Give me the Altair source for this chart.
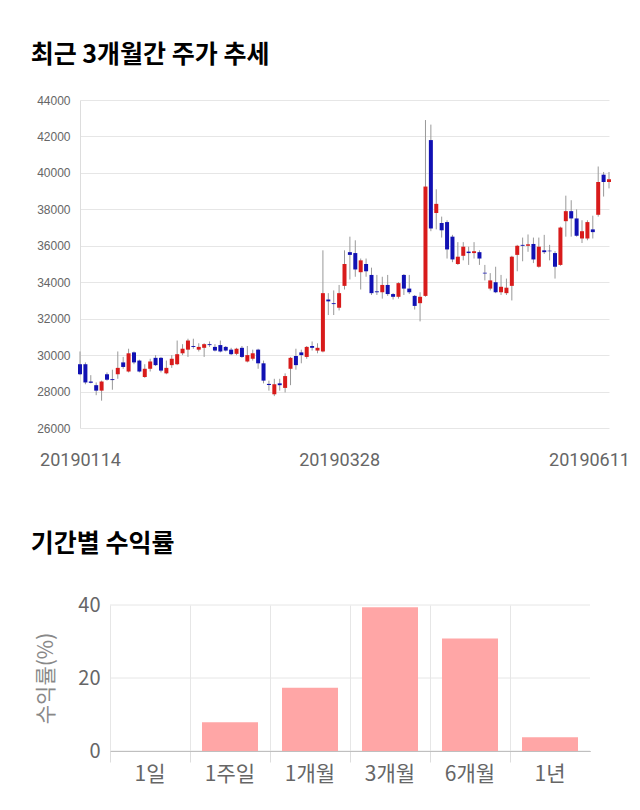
import altair as alt
import pandas as pd

# ---------------- data: candlesticks ----------------
dates = [
    "20190114", "20190115", "20190116", "20190117", "20190118", "20190121", "20190122",
    "20190123", "20190124", "20190125", "20190128", "20190129", "20190130", "20190131",
    "20190207", "20190208", "20190211", "20190212", "20190213", "20190214", "20190215",
    "20190218", "20190219", "20190220", "20190221", "20190222", "20190225", "20190226",
    "20190227", "20190228", "20190304", "20190305", "20190306", "20190307", "20190308",
    "20190311", "20190312", "20190313", "20190314", "20190315", "20190318", "20190319",
    "20190320", "20190321", "20190322", "20190325", "20190326", "20190327", "20190328",
    "20190329", "20190401", "20190402", "20190403", "20190404", "20190405", "20190408",
    "20190409", "20190410", "20190411", "20190412", "20190415", "20190416", "20190417",
    "20190418", "20190419", "20190422", "20190423", "20190424", "20190425", "20190426",
    "20190429", "20190430", "20190502", "20190503", "20190507", "20190508", "20190509",
    "20190510", "20190513", "20190514", "20190515", "20190516", "20190517", "20190520",
    "20190521", "20190522", "20190523", "20190524", "20190527", "20190528", "20190529",
    "20190530", "20190531", "20190603", "20190604", "20190605", "20190607", "20190610",
    "20190611",
]
opens = [
    29500, 29500, 28550, 28350, 28050, 28950, 28680, 28950, 29600, 29100,
    30150, 29700, 28800, 29250, 29850, 29850, 29000, 29450, 29500, 30100,
    30300, 30500, 30300, 30400, 30600, 30450, 30550, 30450, 30300, 30070,
    30400, 29650, 29800, 30300, 29550, 28420, 27850, 28450, 28200, 29250,
    29950, 30150, 29900, 30500, 30250, 30200, 33050, 32850, 32600, 33800,
    35650, 35600, 34550, 35000, 34400, 33500, 33450, 33850, 33350, 33200,
    34400, 33650, 33250, 32850, 33250, 41800, 37800, 37250, 37300, 36500,
    35000, 35450, 35680, 35600, 35650, 34520, 33650, 34000, 33450, 33400,
    33800, 35500, 36050, 36000, 36100, 34850, 35750, 35730, 35600, 34950,
    37350, 37900, 37500, 36400, 36400, 36900, 37700, 39900, 39500,
]
highs = [
    30200, 29600, 28900, 28500, 28600, 29050, 29200, 30200, 29900, 30350,
    30200, 29750, 29500, 29800, 30000, 29900, 29700, 30000, 30800, 30600,
    30900, 30900, 30650, 30650, 30750, 30600, 30800, 30500, 30400, 30400,
    30500, 30500, 30300, 30350, 29700, 28600, 28700, 28700, 29000, 29900,
    30350, 30300, 30500, 30750, 30650, 35750, 33400, 33550, 33850, 35750,
    36500, 36300, 35300, 35300, 34800, 34400, 34300, 34400, 33400, 34000,
    34450, 34400, 33300, 33450, 42900, 42650, 39100, 37600, 37400, 36600,
    36200, 36200, 35950, 36200, 35750, 34950, 34500, 34850, 34400, 34200,
    35450, 36050, 36450, 36620, 36450, 36450, 36600, 36050, 35700, 37050,
    38750, 38500, 38000, 37400, 37400, 37650, 40350, 40050, 40050,
]
lows = [
    28900, 28400, 28450, 27800, 27500, 28600, 28100, 28700, 29250, 29050,
    29500, 29050, 28750, 29100, 29400, 29050, 28950, 29300, 29450, 30000,
    29900, 30350, 30200, 29900, 30450, 30200, 30150, 30200, 30000, 30000,
    29850, 29600, 29700, 29250, 28450, 28050, 27750, 28050, 27950, 28350,
    29200, 29550, 29800, 30250, 30100, 30150, 32200, 32200, 32450, 33600,
    34150, 34300, 33600, 34300, 33300, 33300, 33100, 33250, 33050, 33100,
    33300, 33350, 32500, 31850, 33200, 36800, 36900, 36450, 35300, 35100,
    34950, 35200, 34950, 35300, 34950, 34100, 33550, 33400, 33300, 33300,
    33000, 34600, 35150, 35670, 35050, 34800, 35550, 35200, 34200, 34900,
    36500, 36500, 36500, 36150, 36300, 36400, 37600, 38700, 39150,
]
closes = [
    28950, 28500, 28480, 28050, 28550, 28650, 28630, 29300, 29350, 30100,
    29600, 29100, 29250, 29650, 29450, 29150, 29300, 29800, 30050, 30350,
    30800, 30450, 30450, 30600, 30550, 30250, 30200, 30250, 30050, 30350,
    29900, 30000, 30100, 29550, 28600, 28360, 28400, 28350, 28850, 29850,
    29450, 30000, 30450, 30400, 30400, 33400, 32950, 32800, 33400, 35000,
    35500, 34700, 35200, 34600, 33400, 33450, 33850, 33350, 33200, 33950,
    33650, 33450, 32700, 33200, 39250, 36950, 38300, 36850, 35800, 35250,
    35400, 35950, 35600, 35700, 35300, 34480, 34100, 33450, 33750, 33700,
    35400, 36000, 36000, 36080, 35250, 35950, 35650, 35700, 34850, 37000,
    37900, 37500, 36550, 36800, 37300, 36750, 39500, 39500, 39650,
]
price_ticks = [26000, 28000, 30000, 32000, 34000, 36000, 38000, 40000, 42000, 44000]
date_labels = ["20190114", "20190328", "20190611"]

# ---------------- data: returns by period ----------------
periods = ["1일", "1주일", "1개월", "3개월", "6개월", "1년"]
returns = [0.0, 7.9, 17.3, 39.4, 30.8, 3.8]
return_ticks = [0, 20, 40]

KR = "Noto Sans CJK KR"

candles = pd.DataFrame({"date": dates, "open": opens, "high": highs,
                        "low": lows, "close": closes})
candles["dir"] = ["up" if c >= o else "down" for o, c in zip(opens, closes)]

x_enc = alt.X(
    "date:O", sort=None,
    scale=alt.Scale(type="point", padding=0),
    axis=alt.Axis(
        values=date_labels, labelAngle=0, title=None, ticks=False, domain=False,
        grid=False, labelFontSize=18, labelColor="#666", labelFont="Roboto",
        labelPadding=23,
        labelOffset={"condition": {"test": "datum.value == '20190611'", "value": -20}, "value": 0},
    ),
)
y_scale = alt.Scale(domain=[26000, 44000], nice=False, zero=False)
y_axis = alt.Axis(values=price_ticks, format="d",
                  title=None, ticks=False, labelOverlap=False,
                  domain=True, domainColor="#dddddd", gridColor="#e6e6e6",
                  labelFontSize=12, labelColor="#666", labelFont="Liberation Sans",
                  labelPadding=10)

base = alt.Chart(candles)
wick = base.mark_rule(color="#999999", strokeWidth=1).encode(
    x=x_enc,
    y=alt.Y("low:Q", scale=y_scale, axis=y_axis),
    y2="high:Q",
)
body = base.mark_rule(strokeWidth=4, strokeCap="butt").encode(
    x=x_enc,
    y=alt.Y("open:Q", scale=y_scale, axis=y_axis),
    y2="close:Q",
    color=alt.Color("dir:N", scale=alt.Scale(domain=["up", "down"],
                                             range=["#d81b1b", "#1111b3"]),
                    legend=None),
)
top = alt.layer(wick, body).properties(
    width=529, height=328,
    title=alt.TitleParams("최근 3개월간 주가 추세", anchor="start", frame="bounds",
                          fontSize=25, fontWeight="bold", font=KR, color="#000",
                          offset=26, dx=-6),
)

ret_df = pd.DataFrame({"period": periods, "ret": returns})
grid_df = pd.DataFrame({"ret": return_ticks})

y_ret_scale = alt.Scale(domain=[0, 40], nice=False)
y_ret_axis = alt.Axis(values=return_ticks, title="수익률(%)", ticks=False,
                      domain=False, grid=False, offset=-30, labelFontSize=20,
                      labelColor="#666", labelFont=KR, titleFont=KR,
                      titleFontSize=21, titleColor="#888",
                      titleFontWeight="normal", labelPadding=10,
                      titlePadding=21)
hgrid = alt.Chart(grid_df).mark_rule(color="#e6e6e6", strokeWidth=1).encode(
    y=alt.Y("ret:Q", scale=y_ret_scale, axis=y_ret_axis),
    x=alt.value(30), x2=alt.value(510),
)
bars = alt.Chart(ret_df).mark_bar(
    width=alt.RelativeBandSize(0.7), color="#ffa6a6"
).encode(
    x=alt.X("period:N", sort=periods,
            scale=alt.Scale(paddingInner=0, paddingOuter=0, range=[30, 510]),
            axis=alt.Axis(title=None, labelAngle=0, bandPosition=0,
                          tickSize=11, tickColor="#dddddd", grid=True,
                          gridColor="#e6e6e6", domainColor="#999999",
                          labelFontSize=21, labelColor="#666", labelFont=KR,
                          labelPadding=1)),
    y=alt.Y("ret:Q", scale=y_ret_scale, axis=y_ret_axis),
)
bottom = alt.layer(hgrid, bars).properties(
    width=510, height=146,
    title=alt.TitleParams("기간별 수익률", anchor="start", frame="bounds",
                          fontSize=25, fontWeight="bold", font=KR, color="#000",
                          offset=38, dx=-5),
)

chart = alt.vconcat(top, bottom, spacing=63).properties(
    padding={"left": 30, "top": 43, "right": 0, "bottom": 10},
    background="white",
).configure_view(stroke=None)

chart.save("out.html", embed_options={"renderer": "svg", "actions": False})
